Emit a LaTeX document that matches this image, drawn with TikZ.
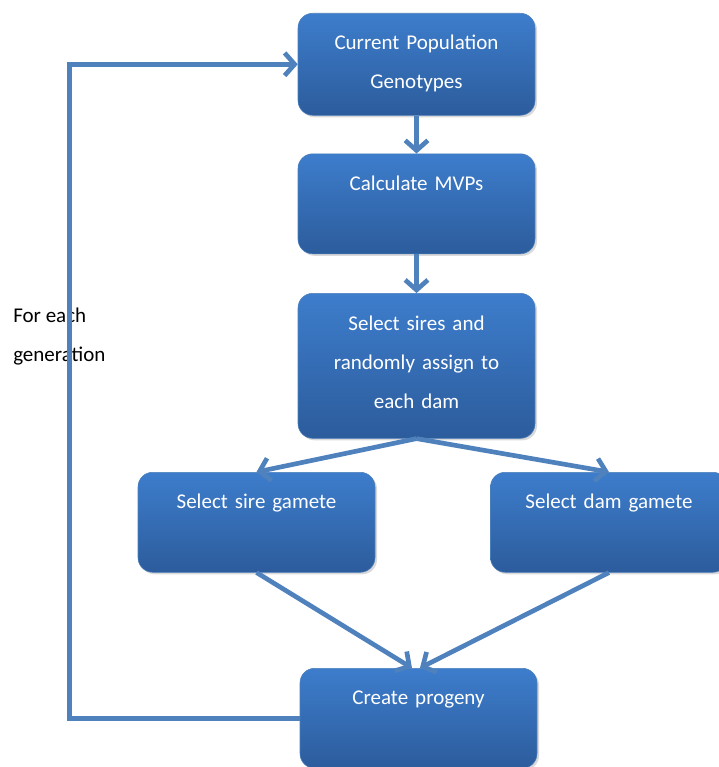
\documentclass[tikz,border=0pt]{standalone}
\usepackage{fontspec}
\setmainfont{Carlito}
\usetikzlibrary{arrows.meta,positioning,shadows}
\definecolor{boxtop}{HTML}{3D7DCC}
\definecolor{boxbot}{HTML}{2C5C9C}
\definecolor{boxline}{HTML}{4A7EBB}
\definecolor{flowblue}{HTML}{4F81BD}

\begin{document}
\begin{tikzpicture}[x=0.75pt,y=-0.75pt,->,>={Straight Barb[length=7.5pt,width=17pt]},node distance=28.5pt,
  every node/.style={font=\fontsize{15.75}{29.25}\selectfont}]
\tikzset{stepbox/.style={draw=boxline,thin,rounded corners=11pt,top color=boxtop,bottom color=boxbot,
    text=white,text width=170pt,align=center,inner xsep=3.875pt,inner ysep=0pt,
    text height=27.5pt,text depth=#1,anchor=north,
    drop shadow={opacity=0.3,shadow xshift=1.5pt,shadow yshift=-1.5pt}},
  stepbox/.default=47.5pt,
  flow/.style={draw=flowblue,line width=3.5pt}}
\tikzset{every edge/.append style={flow}}
\useasboundingbox (0,0) rectangle (718,767);

\node[stepbox=49pt]	(pop)	at (416.5,13)	{Current Population\\Genotypes};
\node[stepbox]		(mvp)	[below=of pop]	{Calculate MVPs};
\node[stepbox=81.25pt]	(sel)	[below=29.25pt of mvp]	{Select sires and\\randomly assign to\\each dam};
\node[stepbox]		(sire)	at (256.5,472)	{Select sire gamete};
\node[stepbox]		(dam)	at (609,472)	{Select dam gamete};
\node[stepbox]		(prog)	at (418.5,668)	{Create progeny};
\node[anchor=west,align=left,inner sep=0pt]	(gen)	at (13,336.5)	{For each\\generation};

\path	(pop)	edge	(mvp)
	(mvp)	edge	(sel)
	(sel.south)	edge	(sire.north)
		edge	(dam.north)
	(sire.south)	edge	([xshift=-4.9pt]prog.north)
	(dam.south)	edge	([xshift=1.1pt]prog.north);

% back to the top for the next generation
\draw[flow] (prog.west) -- ++(-230,0) |- (pop.west);
\end{tikzpicture}
\end{document}
